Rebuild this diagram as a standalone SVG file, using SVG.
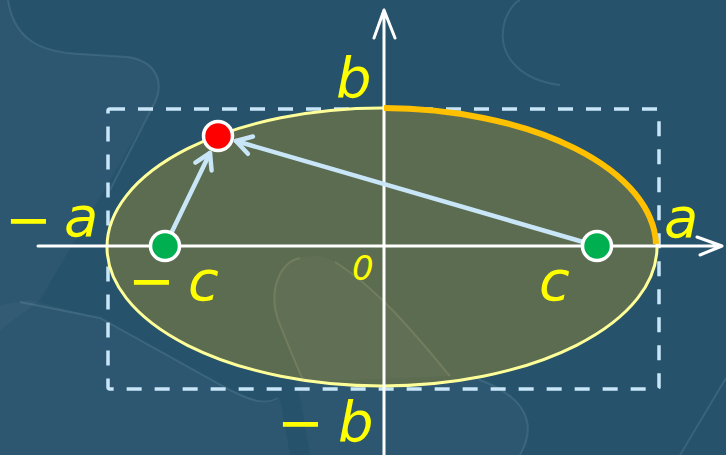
<svg xmlns="http://www.w3.org/2000/svg" width="726" height="455" viewBox="0 0 726 455">
<defs>
<style>
.lbl{font-family:"DejaVu Sans","Liberation Sans",sans-serif;font-style:italic;fill:#ffff00;font-size:56px}
.swf{fill:#ffffff;fill-opacity:0.03;stroke:none}
.sws{fill:none;stroke:#9cc3d6;stroke-opacity:0.16;stroke-width:2}
.blue{stroke:#c8e6f8;stroke-width:4.5;fill:none;stroke-linecap:round;stroke-linejoin:round}
.axis{stroke:#ffffff;stroke-width:3;fill:none;stroke-linecap:round;stroke-linejoin:round}
.pt{stroke:#ffffff;stroke-width:3.5}
</style>
<marker id="ah" markerUnits="userSpaceOnUse" markerWidth="40" markerHeight="40" refX="0" refY="0" orient="auto" viewBox="-20 -20 40 40" overflow="visible">
<path d="M-15,-9 L0,0 L-15,9" fill="none" stroke="#c8e6f8" stroke-width="4.5" stroke-linecap="round" stroke-linejoin="round"/>
</marker>
</defs>
<rect width="726" height="455" fill="#27526c"/>
<g id="background">
<path class="swf" d="M8,0 C14,38 38,52 80,54 L128,57 C158,62 166,84 152,108 L40,300 L0,330 L0,0 Z"/>
<path class="sws" d="M8,0 C14,38 38,52 80,54 L128,57 C158,62 166,84 152,108 L110,190"/>
<path class="swf" d="M0,305 L30,300 L100,318 L230,390 C260,405 275,405 280,398 L290,455 L0,455 Z"/>
<path class="sws" d="M20,302 L100,318 L230,390 C255,403 268,404 278,398"/>
<path class="swf" d="M300,258 C280,262 268,290 278,320 C290,350 300,390 310,455 L520,455 C540,420 520,395 480,380 C430,345 380,290 335,262 C322,255 310,255 300,258 Z"/>
<path class="sws" d="M300,258 C280,262 268,290 278,320 M335,262 C380,290 430,345 480,380 C520,395 540,420 520,455"/>
<path class="sws" d="M560,85 C520,80 495,55 505,20 C510,8 515,2 520,0"/>
<path class="sws" d="M680,455 L726,378"/>
</g>
<g id="rect">
<rect x="108" y="109" width="551" height="280" rx="2" fill="none" stroke="#c8e6f8" stroke-width="3.5" stroke-dasharray="15 13"/>
</g>
<g id="ellipse">
<ellipse cx="382" cy="247" rx="275" ry="139" fill="#5c6c50" stroke="#ffff99" stroke-width="3"/>
<path d="M300,258 C280,262 268,290 278,320 C290,350 300,374 304,382 L450,376 C420,340 380,290 335,262 C322,255 310,255 300,258 Z" fill="#ffffff" fill-opacity="0.03"/>
<path d="M300,258 C280,262 268,290 278,320 C290,350 300,374 304,382 M450,376 C420,340 380,290 335,262" fill="none" stroke="#c9b98a" stroke-opacity="0.2" stroke-width="2"/>
</g>
<g id="axes">
<path class="axis" d="M38,246 L722,246 M697,237 L722,246 L700,255"/>
<path class="axis" d="M384,455 L384,10 M374,38 L384,10 L395,38"/>
</g>
<g id="arc">
<path d="M384,108 A275,139 0 0,1 656,244" fill="none" stroke="#ffc000" stroke-width="6"/>
</g>
<g id="connectors">
<line class="blue" x1="165" y1="246" x2="210" y2="153" marker-end="url(#ah)"/>
<line class="blue" x1="597" y1="246" x2="236" y2="141" marker-end="url(#ah)"/>
</g>
<g id="focus-left"><circle class="pt" cx="165" cy="246" r="14.5" fill="#00b050"/></g>
<g id="focus-right"><circle class="pt" cx="597" cy="246" r="14.5" fill="#00b050"/></g>
<g id="point"><circle class="pt" cx="218" cy="136" r="14.5" fill="#ff0000"/></g>
<g id="labels">
<text class="lbl"><tspan x="5" y="239">−</tspan><tspan x="64" y="236">a</tspan></text>
<text class="lbl" x="336" y="97">b</text>
<text class="lbl" x="664" y="237">a</text>
<text class="lbl"><tspan x="128" y="300">−</tspan><tspan x="188" y="300">c</tspan></text>
<text class="lbl" x="539" y="300">c</text>
<text class="lbl" x="352" y="280" style="font-size:34px">0</text>
<text class="lbl"><tspan x="277" y="442">−</tspan><tspan x="338" y="441">b</tspan></text>
</g>
</svg>
